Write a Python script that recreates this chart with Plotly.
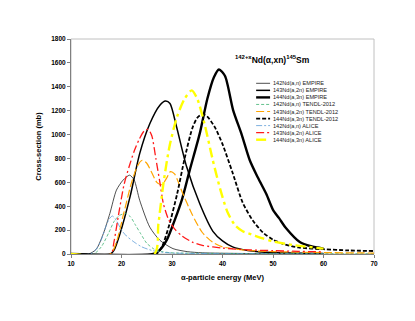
import plotly.graph_objects as go

# 142Nd(a,n) EMPIRE
e_empire_142 = [10, 13.5, 15, 16.4, 17.7, 19, 20.3, 21.6, 22.5, 23.6, 25.6, 27.6, 30.2, 33, 36, 45, 60]
s_empire_142 = [0, 0, 40, 170, 340, 535, 618, 660, 620, 450, 225, 115, 45, 20, 10, 4, 1]
# 143Nd(a,2n) EMPIRE
e_empire_143 = [10, 17.8, 18.5, 19.7, 21.7, 23.6, 25.6, 27.6, 28.7, 29.6, 30.9, 32.9, 35.5, 38.1, 40, 42, 45, 50, 60]
s_empire_143 = [0, 0, 30, 170, 480, 840, 1090, 1245, 1280, 1260, 1065, 730, 420, 190, 110, 60, 30, 12, 4]
# 144Nd(a,3n) EMPIRE
e_empire_144 = [10, 26.3, 27.5, 29, 30.5, 32, 33.5, 35.5, 37, 38.3, 39.3, 40.5, 42.1, 43.8, 45.4, 47, 48.7, 50, 51.2, 52.6, 55.3, 57.5, 60]
s_empire_144 = [0, 0, 30, 120, 280, 460, 700, 1010, 1300, 1480, 1545, 1490, 1205, 1000, 785, 640, 500, 370, 300, 215, 100, 65, 45]
# 142Nd(a,n) TENDL-2012
e_tendl_142 = [10, 14.5, 16, 17.5, 18.5, 19.5, 20.8, 21.8, 22.8, 23.8, 25, 26.5, 28, 30, 40, 70]
s_tendl_142 = [0, 0, 60, 180, 270, 320, 340, 310, 240, 170, 90, 40, 20, 10, 5, 2]
# 143Nd(a,2n) TENDL-2012
e_tendl_143 = [10, 17.8, 19, 20.5, 22, 23.2, 24.1, 25, 26, 27, 28, 29, 29.7, 30.5, 32, 34, 36, 38, 40, 45, 50, 60, 70]
s_tendl_143 = [0, 0, 100, 350, 600, 740, 785, 760, 680, 600, 580, 640, 690, 670, 520, 330, 180, 100, 60, 30, 20, 12, 8]
# 144Nd(a,3n) TENDL-2012
e_tendl_144 = [10, 26.8, 28, 29.5, 31, 32.5, 34, 35, 36, 37, 38.5, 40, 42, 44, 46, 48, 50, 52, 55, 60, 65, 70]
s_tendl_144 = [0, 0, 60, 250, 500, 800, 1050, 1140, 1170, 1150, 1060, 920, 680, 430, 280, 180, 120, 85, 55, 40, 30, 25]
# 142Nd(a,n) ALICE
e_alice_142 = [10, 13.8, 15, 16, 17, 17.6, 18.2, 19, 20, 21, 22.5, 24, 26, 28, 30, 40, 60]
s_alice_142 = [0, 0, 40, 120, 240, 295, 318, 280, 200, 150, 100, 60, 30, 15, 8, 3, 0]
# 143Nd(a,2n) ALICE
e_alice_143 = [10, 17.9, 18.5, 19.5, 20.5, 21.5, 22.5, 23.5, 24.5, 25.3, 26, 26.8, 27.6, 28.3, 29.3, 30.5, 32, 34, 36, 40, 45, 50, 55, 60]
s_alice_143 = [0, 0, 100, 350, 580, 730, 860, 960, 1030, 1044, 990, 800, 600, 420, 290, 210, 150, 100, 72, 50, 35, 28, 22, 18]
# 144Nd(a,3n) ALICE
e_alice_144 = [10, 26.5, 27.3, 28.3, 29.5, 31, 32.5, 33.9, 35, 36.5, 38, 39.5, 41, 42.5, 44, 46, 48, 50, 54, 60]
s_alice_144 = [0, 0, 250, 590, 900, 1150, 1300, 1370, 1300, 1080, 800, 550, 350, 240, 190, 160, 130, 105, 75, 45]

names = [
    "142Nd(a,n) EMPIRE", "143Nd(a,2n) EMPIRE", "144Nd(a,3n) EMPIRE",
    "142Nd(a,n) TENDL-2012", "143Nd(a,2n) TENDL-2012", "144Nd(a,3n) TENDL-2012",
    "142Nd(a,n) ALICE", "143Nd(a,2n) ALICE", "144Nd(a,3n) ALICE",
]
energies = [e_empire_142, e_empire_143, e_empire_144, e_tendl_142, e_tendl_143,
            e_tendl_144, e_alice_142, e_alice_143, e_alice_144]
sigmas = [s_empire_142, s_empire_143, s_empire_144, s_tendl_142, s_tendl_143,
          s_tendl_144, s_alice_142, s_alice_143, s_alice_144]

styles = [
    dict(color="#222222", width=0.8, dash="solid"),
    dict(color="black", width=1.5, dash="solid"),
    dict(color="black", width=2.4, dash="solid"),
    dict(color="#3cb371", width=0.8, dash="3px,2px"),
    dict(color="#ffa500", width=1.2, dash="8px,3px"),
    dict(color="black", width=1.8, dash="4px,2px"),
    dict(color="#5b9bd5", width=0.8, dash="6px,2px,2px,2px"),
    dict(color="#ff1a1a", width=1.3, dash="8px,3px,2px,3px"),
    dict(color="#ffff00", width=2.4, dash="10px,4px,3px,4px"),
]

fig = go.Figure()
for e, s, st, n in zip(energies, sigmas, styles, names):
    fig.add_trace(go.Scatter(x=e, y=s, mode="lines", name=n,
                             line=dict(st, shape="spline", smoothing=0.7),
                             showlegend=False))

# hand-made compact legend (plotly's own has a minimum row height)
shapes = [dict(type="rect", xref="paper", yref="paper", x0=0, x1=1, y0=0, y1=1,
               line=dict(color="#c0c0c0", width=1), layer="below")]
annotations = []
for i, (n, st) in enumerate(zip(names, styles)):
    ypx = 83.3 + 7.05 * i
    yp = (254 - ypx) / 215
    shapes.append(dict(type="line", xref="paper", yref="paper", x0=0.611, x1=0.657,
                       y0=yp, y1=yp, line=dict(color=st["color"], width=st["width"],
                                               dash=st["dash"])))
    annotations.append(dict(text=n, xref="paper", yref="paper", x=0.66, y=yp,
                            xanchor="left", yanchor="middle", showarrow=False,
                            font=dict(size=5.6, color="#222")))

annotations.append(dict(text="<sup>142+x</sup>Nd(α,xn)<sup>145</sup>Sm", xref="paper", yref="paper",
                        x=0.665, y=(254 - 59) / 215, xanchor="center", yanchor="middle",
                        showarrow=False, font=dict(size=8.5, color="black", weight="bold")))

# the page adds ~8px body margin, so margins are reduced accordingly
fig.update_layout(
    width=415, height=321,
    margin=dict(l=63, r=49, t=31, b=75),
    paper_bgcolor="white", plot_bgcolor="white",
    font=dict(family="Liberation Sans, Arial, sans-serif", size=6, color="black"),
    shapes=shapes, annotations=annotations,
    showlegend=False,
)
fig.update_xaxes(
    range=[10, 70], dtick=10, tick0=10, showgrid=False, zeroline=False, automargin=False,
    showline=True, linecolor="#808080", linewidth=1, ticks="outside", ticklen=3,
    tickcolor="#808080", tickfont=dict(size=6.5, color="black", weight="bold"),
    title=dict(text="α-particle energy (MeV)", font=dict(size=7.5, weight="bold"), standoff=8),
)
fig.update_yaxes(
    range=[0, 1800], dtick=200, showgrid=False, zeroline=False, automargin=False,
    showline=True, linecolor="#808080", linewidth=1, ticks="outside", ticklen=3,
    tickcolor="#808080", tickfont=dict(size=6.5, color="black", weight="bold"),
    title=dict(text="Cross-section (mb)", font=dict(size=7.5, weight="bold"), standoff=8),
)

fig.write_html("out.html")
